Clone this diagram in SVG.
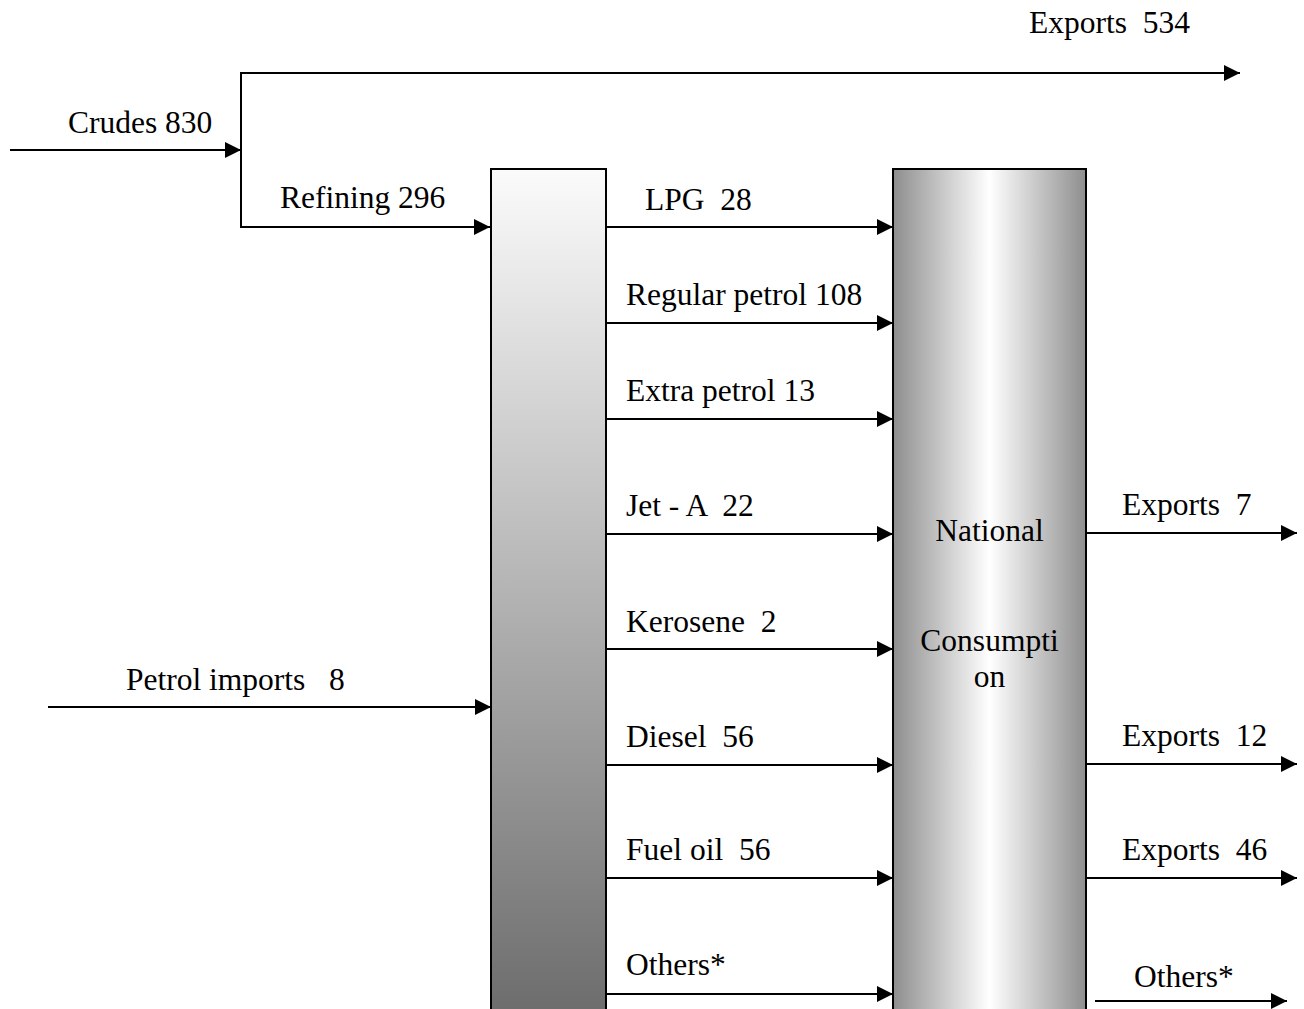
<svg xmlns="http://www.w3.org/2000/svg" width="1304" height="1009" viewBox="0 0 1304 1009">
<style>
text{font-family:"Liberation Serif","Times New Roman",serif;font-size:31.5px;fill:#000;white-space:pre}
.c line,.c polyline{stroke:#000;stroke-width:2;fill:none}
.box{stroke:#000;stroke-width:2}
</style>
<defs>
<marker id="ah" markerUnits="userSpaceOnUse" markerWidth="16" markerHeight="16" refX="16" refY="8" orient="auto">
<path d="M0,0 L16,8 L0,16 Z" fill="#000"/>
</marker>
<linearGradient id="gref" x1="0" y1="0" x2="0" y2="1">
<stop offset="0" stop-color="#fbfbfb"/>
<stop offset="1" stop-color="#6a6a6a"/>
</linearGradient>
<linearGradient id="gcon" x1="0" y1="0" x2="1" y2="0">
<stop offset="0" stop-color="#8e8e8e"/>
<stop offset="0.5" stop-color="#ffffff"/>
<stop offset="1" stop-color="#8e8e8e"/>
</linearGradient>
</defs>
<g id="refinery"><rect class="box" x="491" y="169" width="115" height="860" fill="url(#gref)"/></g>
<g id="consumption"><rect class="box" x="893" y="169" width="193" height="860" fill="url(#gcon)"/>
<text x="989.5" y="541" text-anchor="middle">National</text>
<text x="989.5" y="651" text-anchor="middle">Consumpti</text>
<text x="989.5" y="687" text-anchor="middle">on</text></g>
<g id="connectors" class="c">
<line x1="10" y1="150" x2="241" y2="150" marker-end="url(#ah)"/>
<polyline points="241,73 241,227 490,227" marker-end="url(#ah)"/>
<line x1="240" y1="73" x2="1240" y2="73" marker-end="url(#ah)"/>
<line x1="48" y1="707" x2="491" y2="707" marker-end="url(#ah)"/>
<line x1="606" y1="227" x2="893" y2="227" marker-end="url(#ah)"/>
<line x1="606" y1="323" x2="893" y2="323" marker-end="url(#ah)"/>
<line x1="606" y1="419" x2="893" y2="419" marker-end="url(#ah)"/>
<line x1="606" y1="534" x2="893" y2="534" marker-end="url(#ah)"/>
<line x1="606" y1="649" x2="893" y2="649" marker-end="url(#ah)"/>
<line x1="606" y1="765" x2="893" y2="765" marker-end="url(#ah)"/>
<line x1="606" y1="878" x2="893" y2="878" marker-end="url(#ah)"/>
<line x1="606" y1="994" x2="893" y2="994" marker-end="url(#ah)"/>
<line x1="1086" y1="533" x2="1297" y2="533" marker-end="url(#ah)"/>
<line x1="1086" y1="764" x2="1297" y2="764" marker-end="url(#ah)"/>
<line x1="1086" y1="878" x2="1297" y2="878" marker-end="url(#ah)"/>
<line x1="1095" y1="1001" x2="1287" y2="1001" marker-end="url(#ah)"/>
</g>
<g id="labels">
<text x="1029" y="33">Exports  534</text>
<text x="68" y="133">Crudes 830</text>
<text x="280" y="208">Refining 296</text>
<text x="645" y="210">LPG  28</text>
<text x="626" y="305">Regular petrol 108</text>
<text x="626" y="401">Extra petrol 13</text>
<text x="626" y="516">Jet - A  22</text>
<text x="626" y="632">Kerosene  2</text>
<text x="126" y="690">Petrol imports   8</text>
<text x="626" y="747">Diesel  56</text>
<text x="626" y="860">Fuel oil  56</text>
<text x="626" y="975">Others*</text>
<text x="1122" y="515">Exports  7</text>
<text x="1122" y="746">Exports  12</text>
<text x="1122" y="860">Exports  46</text>
<text x="1134" y="987">Others*</text>
</g>
</svg>
